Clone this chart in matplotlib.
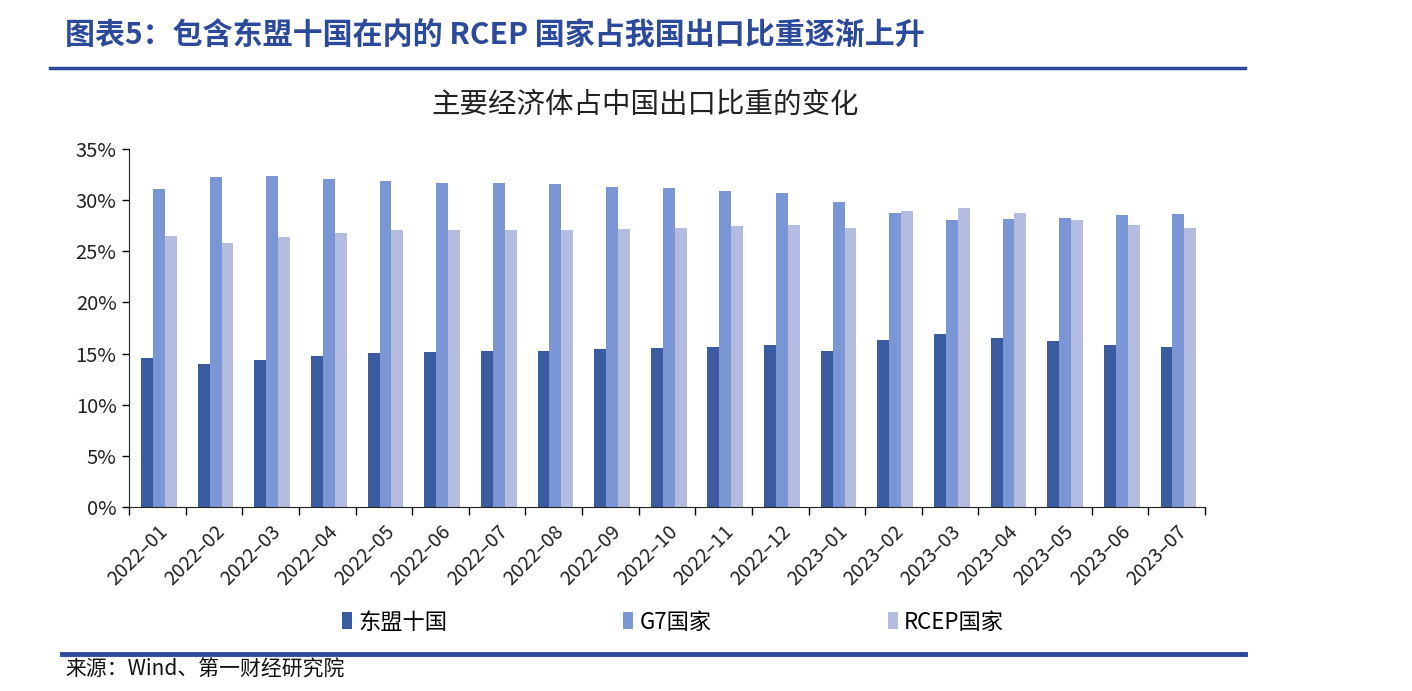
import matplotlib
matplotlib.use('Agg')
import matplotlib.pyplot as plt
from matplotlib.lines import Line2D
from matplotlib.patches import Patch
import numpy as np

plt.rcParams['font.family'] = ['Noto Sans CJK SC', 'DejaVu Sans']

months = ['2022-01', '2022-02', '2022-03', '2022-04', '2022-05', '2022-06', '2022-07',
          '2022-08', '2022-09', '2022-10', '2022-11', '2022-12', '2023-01', '2023-02',
          '2023-03', '2023-04', '2023-05', '2023-06', '2023-07']
asean = [14.6, 14.0, 14.35, 14.8, 15.07, 15.2, 15.3, 15.3, 15.4, 15.5, 15.6, 15.8,
         15.3, 16.3, 16.9, 16.55, 16.2, 15.8, 15.65]
g7 = [31.1, 32.3, 32.4, 32.1, 31.9, 31.7, 31.7, 31.6, 31.3, 31.15, 30.85, 30.65,
      29.8, 28.7, 28.05, 28.15, 28.3, 28.5, 28.65]
rcep = [26.5, 25.8, 26.4, 26.8, 27.05, 27.05, 27.1, 27.1, 27.2, 27.3, 27.45, 27.6,
        27.25, 28.95, 29.2, 28.7, 28.1, 27.55, 27.3]
series_names = ['东盟十国', 'G7国家', 'RCEP国家']
colors = ['#3a5ba0', '#7b96d4', '#b4bde0']

W, H = 1412, 691
fig = plt.figure(figsize=(W / 100, H / 100), dpi=100)
fig.patch.set_facecolor('white')

ax = fig.add_axes([129 / W, 1 - 507 / H, (1205 - 129) / W, (507 - 149) / H])

x = np.arange(len(months))
bw = 0.21
for i, (vals, c) in enumerate(zip([asean, g7, rcep], colors)):
    ax.bar(x + (i - 1) * bw + 0.03, vals, width=bw, color=c, zorder=2)

ax.set_xlim(-0.5, len(months) - 0.5)
ax.set_ylim(0, 35)
ax.set_yticks(np.arange(0, 36, 5))
ax.set_yticklabels([f'{v}%' for v in range(0, 36, 5)], fontsize=14.5, color='#222222')
ax.tick_params(axis='y', length=5, width=1, direction='out', pad=4)

ax.set_xticks(np.arange(-0.5, len(months), 1.0))
ax.set_xticklabels([])
ax.set_xticks(x, minor=True)
ax.set_xticklabels([m.replace('-', '–') for m in months], minor=True, rotation=45,
                   ha='right', va='top', rotation_mode='anchor', fontsize=14, color='#222222')
ax.tick_params(axis='x', which='major', length=6, width=1, direction='out')
ax.tick_params(axis='x', which='minor', length=0, pad=10)

for s in ['top', 'right']:
    ax.spines[s].set_visible(False)
ax.spines['left'].set_color('#222222')
ax.spines['bottom'].set_color('#222222')

# header
fig.text(65 / W, 1 - 36 / H, '图表5：包含东盟十国在内的 RCEP 国家占我国出口比重逐渐上升',
         fontsize=21.6, fontweight='bold', color='#2c4a9c', va='center', ha='left')
fig.add_artist(Line2D([50 / W, 1245 / W], [1 - 68 / H, 1 - 68 / H], color='#2c4a9c', lw=2.5))

fig.text(645 / W, 1 - 105 / H, '主要经济体占中国出口比重的变化', fontsize=20.5,
         color='#222222', ha='center', va='center')

# legend
handles = [Patch(facecolor=c) for c in colors]
fig.legend(handles, series_names, loc='center left', bbox_to_anchor=(322 / W, 1 - 622 / H),
           ncol=3, frameon=False, fontsize=16, handlelength=0.45, handleheight=0.8,
           handletextpad=0.3, columnspacing=7.9)

# footer
fig.add_artist(Line2D([62 / W, 1245 / W], [1 - 654 / H, 1 - 654 / H], color='#2c4a9c', lw=3.5))
fig.text(65 / W, 1 - 670 / H, '来源：Wind、第一财经研究院', fontsize=15,
         color='#111111', ha='left', va='center')

fig.savefig('out.png', dpi=100, facecolor='white')
